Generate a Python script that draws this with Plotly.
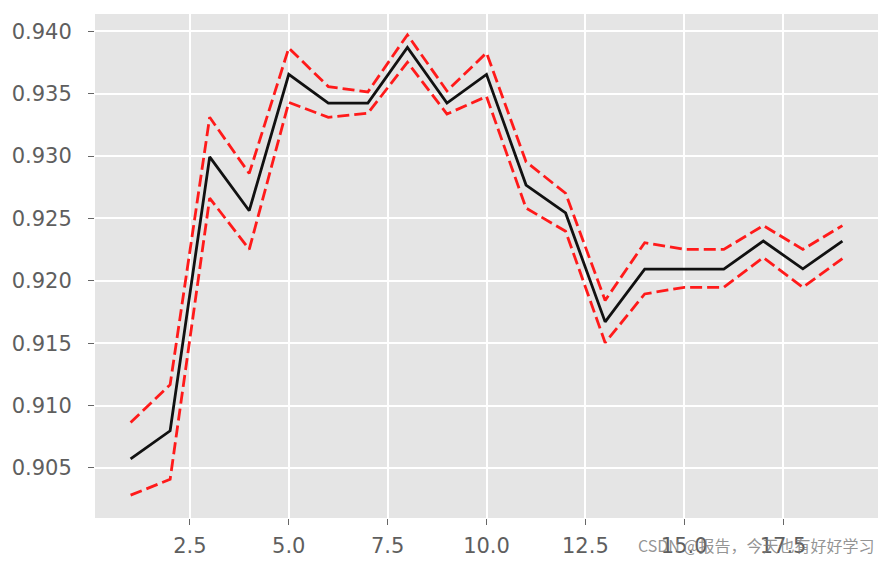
import plotly.graph_objects as go

k_values = list(range(1, 20))
mean_score = [0.90573, 0.90798, 0.92994, 0.92562, 0.93655, 0.93425, 0.93425, 0.93871, 0.93425, 0.93655,
              0.92768, 0.92544, 0.91671, 0.92094, 0.92094, 0.92094, 0.92319, 0.92096, 0.92319]
upper_score = [0.90864, 0.91168, 0.93311, 0.92861, 0.93867, 0.93557, 0.93514, 0.93972, 0.93522, 0.93828,
               0.92954, 0.92702, 0.91843, 0.92306, 0.92252, 0.92252, 0.92443, 0.92252, 0.92443]
lower_score = [0.90282, 0.90409, 0.92663, 0.92252, 0.93431, 0.93311, 0.93343, 0.93752, 0.93337, 0.93478,
               0.92583, 0.92398, 0.91504, 0.91895, 0.91948, 0.91948, 0.92187, 0.91948, 0.92179]
x_tickvals = [2.5, 5.0, 7.5, 10.0, 12.5, 15.0, 17.5]
x_ticktext = ["2.5", "5.0", "7.5", "10.0", "12.5", "15.0", "17.5"]
y_tickvals = [0.905, 0.910, 0.915, 0.920, 0.925, 0.930, 0.935, 0.940]
y_ticktext = ["0.905", "0.910", "0.915", "0.920", "0.925", "0.930", "0.935", "0.940"]
watermark = "CSDN @报告，今天也有好好学习"

fig = go.Figure()
fig.add_trace(go.Scatter(x=k_values, y=mean_score, mode="lines",
                         line=dict(color="#111111", width=2.8), showlegend=False))
fig.add_trace(go.Scatter(x=k_values, y=upper_score, mode="lines",
                         line=dict(color="#ff1a1a", width=2.8, dash="12px,5px"), showlegend=False))
fig.add_trace(go.Scatter(x=k_values, y=lower_score, mode="lines",
                         line=dict(color="#ff1a1a", width=2.8, dash="12px,5px"), showlegend=False))

tick_font = dict(family="DejaVu Sans", size=21, color="#5e5e5e")
fig.update_layout(
    width=890, height=570,
    margin=dict(l=95, r=12, t=14, b=47),
    paper_bgcolor="white",
    plot_bgcolor="#E5E5E5",
    xaxis=dict(range=[0.1, 19.9], tickvals=x_tickvals, ticktext=x_ticktext,
               showgrid=True, gridcolor="white", gridwidth=1.5, zeroline=False,
               ticks="outside", ticklen=6, tickcolor="#666666", tickwidth=1,
               tickfont=tick_font, showline=False, ticklabelstandoff=3),
    yaxis=dict(range=[0.90099, 0.94139], tickvals=y_tickvals, ticktext=y_ticktext,
               showgrid=True, gridcolor="white", gridwidth=1.5, zeroline=False,
               ticks="outside", ticklen=6, tickcolor="#666666", tickwidth=1,
               tickfont=tick_font, showline=False, ticklabelstandoff=12),
    annotations=[dict(text=watermark, xref="paper", yref="paper", x=0.999, y=-0.053,
                      xanchor="right", yanchor="middle", showarrow=False,
                      font=dict(family="Noto Sans CJK SC", size=16, color="rgba(120,120,120,0.8)"))],
)

fig.write_html("out.html")
